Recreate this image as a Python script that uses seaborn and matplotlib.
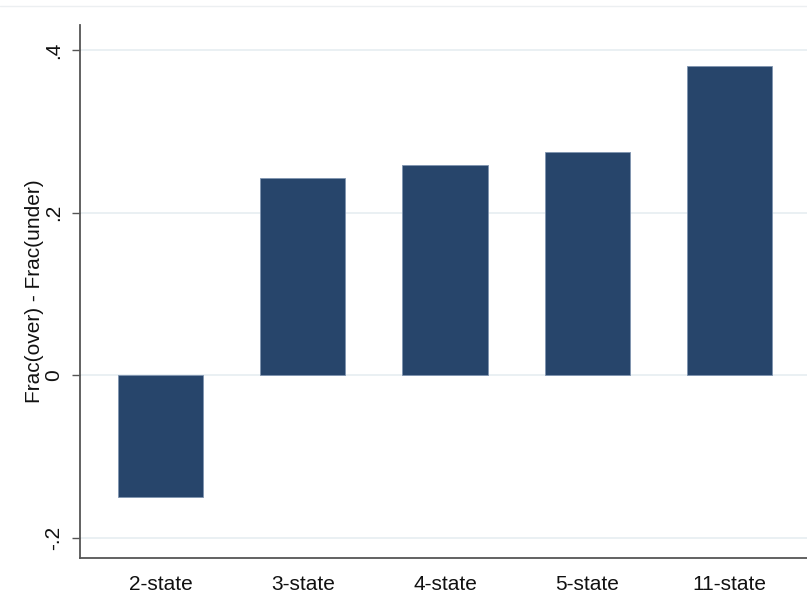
import matplotlib
matplotlib.use("Agg")
import matplotlib.pyplot as plt
from matplotlib.lines import Line2D
import seaborn as sns
import pandas as pd

states = ["2-state", "3-state", "4-state", "5-state", "11-state"]
diff_values = [-0.150, 0.242, 0.259, 0.274, 0.380]
y_ticks = [-0.2, 0.0, 0.2, 0.4]
y_tick_labels = ["-.2", "0", ".2", ".4"]

sns.set_theme(style="white")
plt.rcParams["font.family"] = ["Liberation Sans", "DejaVu Sans"]

df = pd.DataFrame({"model": states, "diff": diff_values})

fig = plt.figure(figsize=(8.07, 6.09), dpi=100)
ax = fig.add_axes([80 / 807, 1 - 558 / 609, 1 - 80 / 807, (558 - 25) / 609])

bar_color = "#27456b"
sns.barplot(data=df, x="model", y="diff", order=states, color=bar_color,
            saturation=1, width=0.6, edgecolor="#7f94b0", linewidth=0.6,
            ax=ax, zorder=3)

ax.set_xlim(-0.566, 4.545)
ax.set_ylim(-0.2246, 0.4307)
ax.set_yticks(y_ticks)
ax.set_yticklabels(y_tick_labels, rotation=90, va="center", fontsize=15)
ax.tick_params(axis="x", length=0, labelsize=15, pad=12, colors="#111111")
ax.tick_params(axis="y", length=6, width=1.0, color="#555555", pad=6,
               left=True, labelcolor="#111111")

ax.grid(axis="y", color="#e6edf1", linewidth=1.2, zorder=0)
ax.set_axisbelow(True)

for side in ["top", "right"]:
    ax.spines[side].set_visible(False)
for side in ["left", "bottom"]:
    ax.spines[side].set_color("#555555")
    ax.spines[side].set_linewidth(1.3)

ax.set_xlabel("")
ax.set_ylabel("Frac(over) - Frac(under)", fontsize=15, color="#111111", labelpad=0)

# thin frame line along the top of the graph region
fig.add_artist(Line2D([0, 1], [1 - 6 / 609, 1 - 6 / 609], color="#eceff1",
                      linewidth=1.0, transform=fig.transFigure))

fig.savefig("out.png", dpi=100, facecolor="white")
